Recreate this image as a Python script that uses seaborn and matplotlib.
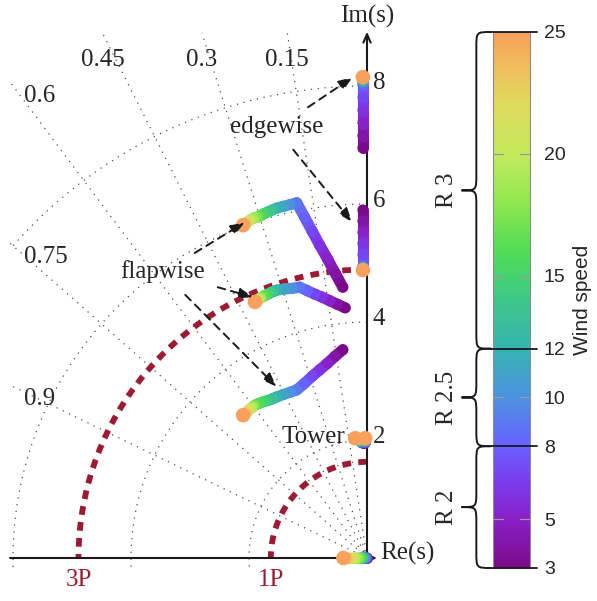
import numpy as np
import pandas as pd
import matplotlib
matplotlib.use("Agg")
import matplotlib.pyplot as plt
import seaborn as sns
from matplotlib.collections import LineCollection
from matplotlib.colors import LinearSegmentedColormap, Normalize
from matplotlib.path import Path
from matplotlib.patches import PathPatch
import matplotlib.cm as cm

# ---------------- data ----------------
wind = list(range(3, 26))

edge_hi_re = [-0.07] * 23
edge_hi_im = [6.95, 7.16, 7.38, 7.59, 7.81, 8.02, 8.05, 8.07, 8.09, 8.10, 8.11, 8.11,
              8.12, 8.12, 8.13, 8.13, 8.13, 8.14, 8.14, 8.14, 8.15, 8.15, 8.15]
edge_lo_re = [-0.07] * 23
edge_lo_im = [5.90, 5.71, 5.52, 5.33, 5.14, 4.95, 4.94, 4.93, 4.92, 4.91, 4.91, 4.90,
              4.90, 4.90, 4.89, 4.89, 4.89, 4.89, 4.88, 4.88, 4.88, 4.88, 4.88]
flap_hi_re = [-0.41, -0.54, -0.67, -0.80, -0.93, -1.06, -1.19, -1.30, -1.42, -1.53, -1.60, -1.67,
              -1.74, -1.81, -1.85, -1.90, -1.94, -1.98, -2.01, -2.03, -2.06, -2.08, -2.10]
flap_hi_im = [4.59, 4.83, 5.07, 5.30, 5.54, 5.78, 6.02, 5.99, 5.96, 5.93, 5.90, 5.87,
              5.84, 5.80, 5.78, 5.77, 5.75, 5.73, 5.71, 5.69, 5.67, 5.66, 5.64]
flap_mid_re = [-0.37, -0.50, -0.63, -0.76, -0.88, -1.01, -1.14, -1.27, -1.40, -1.53, -1.58, -1.63,
               -1.68, -1.73, -1.78, -1.80, -1.82, -1.84, -1.85, -1.86, -1.87, -1.89, -1.90]
flap_mid_im = [4.24, 4.30, 4.36, 4.42, 4.47, 4.53, 4.59, 4.57, 4.56, 4.54, 4.52, 4.50,
               4.47, 4.45, 4.42, 4.41, 4.40, 4.38, 4.37, 4.36, 4.35, 4.35, 4.34]
flap_lo_re = [-0.41, -0.54, -0.67, -0.80, -0.93, -1.06, -1.19, -1.30, -1.42, -1.53, -1.60, -1.68,
              -1.75, -1.83, -1.90, -1.93, -1.95, -1.98, -2.00, -2.03, -2.05, -2.08, -2.10]
flap_lo_im = [3.53, 3.42, 3.30, 3.19, 3.08, 2.96, 2.85, 2.81, 2.77, 2.73, 2.70, 2.67,
              2.65, 2.62, 2.59, 2.57, 2.55, 2.53, 2.51, 2.48, 2.46, 2.44, 2.42]
tower_fa_re = [-0.07, -0.07, -0.08, -0.08, -0.09, -0.09, -0.10, -0.10, -0.11, -0.11, -0.12, -0.13,
               -0.13, -0.14, -0.15, -0.15, -0.16, -0.17, -0.17, -0.18, -0.19, -0.19, -0.20]
tower_ss_re = [-0.05, -0.05, -0.05, -0.05, -0.05, -0.05, -0.04, -0.04, -0.04, -0.04, -0.04, -0.04,
               -0.04, -0.04, -0.03, -0.03, -0.03, -0.03, -0.03, -0.03, -0.03, -0.03, -0.03]
tower_im = [1.95, 1.95, 1.96, 1.96, 1.96, 1.97, 1.97, 1.98, 1.98, 1.99, 1.99, 2.00,
            2.00, 2.00, 2.01, 2.01, 2.01, 2.02, 2.02, 2.02, 2.03, 2.03, 2.03]
real_re = [0.00, 0.00, -0.01, -0.01, -0.01, -0.02, -0.03, -0.04, -0.05, -0.06, -0.07, -0.08,
           -0.09, -0.11, -0.13, -0.16, -0.19, -0.22, -0.26, -0.29, -0.33, -0.37, -0.40]
real_im = [0.0] * 23

damping_ratios = [0.15, 0.3, 0.45, 0.6, 0.75, 0.9]
damping_labels = ["0.15", "0.3", "0.45", "0.6", "0.75", "0.9"]
nat_freqs = [2, 4, 6, 8]
p_freqs = [1.63, 4.89]
p_labels = ["1P", "3P"]
im_ticks = [2, 4, 6, 8]

cbar_ticks = [3, 5, 8, 10, 12, 15, 20, 25]
region_bounds = [(3, 8, "R 2"), (8, 12, "R 2.5"), (12, 25, "R 3")]

cmap_vals = [3, 5, 6.5, 8, 10, 12, 14, 16, 18, 20, 22, 23.5, 25]
cmap_cols = ["#7a0a8a", "#8a20c8", "#7a3cee", "#6860ff", "#4d92e0", "#36b4b0", "#3dc88a",
             "#50dc55", "#90e850", "#c4ea5c", "#dedc5c", "#f0c05c", "#f8a05c"]

# ---------------- style ----------------
sns.set_theme(style="white")
plt.rcParams['font.family'] = ['Liberation Serif', 'DejaVu Serif']
SERIF = 18
RED = "#9e1a32"

vmin, vmax = 3, 25
cmap = LinearSegmentedColormap.from_list(
    "wind", [((v - vmin) / (vmax - vmin), c) for v, c in zip(cmap_vals, cmap_cols)])
norm = Normalize(vmin, vmax)

fig = plt.figure(figsize=(5.97, 6.01), dpi=100)
ax = fig.add_axes([10.05 / 597, (601 - 566.85) / 601, 371.7 / 597, 539.85 / 601])
ax.set_xlim(-6.05, 0.25)
ax.set_ylim(-0.15, 9.0)
ax.axis('off')

# grid: damping lines and natural frequency circles
for z, lab in zip(damping_ratios, damping_labels):
    s = np.sqrt(1 - z * z)
    t = min(6.05 / z, 8.9 / s)
    ax.plot([0, -z * t], [0, s * t], color='0.3', lw=0.9, ls=(0, (1, 4.5)), zorder=1)
    if 6.05 / z > 8.9 / s:
        ax.text(-z * t, 8.44, lab, ha='center', va='center', fontsize=SERIF)
    else:
        ax.text(-5.82, s * t - 0.05, lab, ha='left', va='top', fontsize=SERIF)

th = np.linspace(np.pi / 2, np.pi * 1.03, 300)
for w in nat_freqs:
    ax.plot(w * np.cos(th), w * np.sin(th), color='0.3', lw=0.9, ls=(0, (1, 4.5)), zorder=1)

# 1P / 3P circles
th2 = np.linspace(np.pi / 2, np.pi, 300)
for p, lab in zip(p_freqs, p_labels):
    ax.plot(p * np.cos(th2), p * np.sin(th2), color=RED, lw=4.2, ls=(0, (1.5, 1.25)), zorder=2)
    ax.text(-p, -0.37, lab, color=RED, ha='center', va='center', fontsize=SERIF)

# axes arrows
ax.annotate('', xy=(0.17, 0), xytext=(-6.05, 0),
            arrowprops=dict(arrowstyle='->,head_length=0.5,head_width=0.22', lw=1.5,
                            color='k', shrinkA=0, shrinkB=0), zorder=2)
ax.annotate('', xy=(0, 8.92), xytext=(0, 0),
            arrowprops=dict(arrowstyle='->,head_length=0.5,head_width=0.22', lw=1.5,
                            color='k', shrinkA=0, shrinkB=0), zorder=2)
ax.text(0, 9.18, "Im(s)", ha='center', va='center', fontsize=SERIF)
ax.text(0.23, 0.08, "Re(s)", ha='left', va='center', fontsize=SERIF)
for v in im_ticks:
    ax.text(0.1, v + 0.05, str(v), ha='left', va='center', fontsize=SERIF)

# modes
modes = [
    ("edge_hi", edge_hi_re, edge_hi_im),
    ("edge_lo", edge_lo_re, edge_lo_im),
    ("flap_hi", flap_hi_re, flap_hi_im),
    ("flap_mid", flap_mid_re, flap_mid_im),
    ("flap_lo", flap_lo_re, flap_lo_im),
    ("tower_fa", tower_fa_re, tower_im),
    ("tower_ss", tower_ss_re, tower_im),
    ("real", real_re, real_im),
]
frames = []
for name, re, im in modes:
    frames.append(pd.DataFrame({"mode": name, "re": re, "im": im, "wind": wind}))
    pts = np.column_stack([re, im])
    segs = np.stack([pts[:-1], pts[1:]], axis=1)
    wmid = (np.array(wind[:-1]) + np.array(wind[1:])) / 2
    lc = LineCollection(segs, colors=cmap(norm(wmid)), linewidths=8.0,
                        capstyle='round', joinstyle='round', zorder=3)
    ax.add_collection(lc)
df = pd.concat(frames, ignore_index=True).sort_values("wind", kind="stable")

sns.scatterplot(data=df, x="re", y="im", hue="wind", palette=cmap, hue_norm=norm,
                s=62, linewidth=0, legend=False, ax=ax, zorder=4)
sns.scatterplot(data=df[df["wind"] == 25], x="re", y="im", hue="wind", palette=cmap,
                hue_norm=norm, s=110, linewidth=0, legend=False, ax=ax, zorder=5)
ax.set_xlim(-6.05, 0.25)
ax.set_ylim(-0.15, 9.0)
ax.axis('off')

# annotations
ax.text(-1.53, 7.31, "edgewise", ha='center', va='center', fontsize=SERIF, zorder=6)
ax.text(-3.46, 4.85, "flapwise", ha='center', va='center', fontsize=SERIF, zorder=6)
ax.text(-0.37, 2.05, "Tower", ha='right', va='center', fontsize=SERIF, zorder=6)
arrows = [((-1.00, 7.64), (-0.24, 8.15)), ((-1.25, 6.92), (-0.25, 5.69)),
          ((-2.92, 5.17), (-2.07, 5.69)), ((-2.53, 4.59), (-1.93, 4.42)),
          ((-3.08, 4.46), (-1.53, 2.90))]
for a, b in arrows:
    ax.annotate('', xy=b, xytext=a,
                arrowprops=dict(arrowstyle='-|>,head_length=0.7,head_width=0.25', lw=1.4,
                                color='k', ls=(0, (4, 3)), shrinkA=0, shrinkB=0), zorder=6)

# colorbar
cax = fig.add_axes([493 / 597, (601 - 568) / 601, 37 / 597, 536 / 601])
sm = cm.ScalarMappable(norm=norm, cmap=cmap)
cb = fig.colorbar(sm, cax=cax, ticks=cbar_ticks)
cb.outline.set_edgecolor('0.55')
cb.outline.set_linewidth(0.8)
cax.tick_params(length=0, pad=10, labelsize=14)
for lab in cax.get_yticklabels():
    lab.set_fontfamily(['Liberation Sans', 'DejaVu Sans'])
cax.text(2.43, 0.5, "Wind speed", rotation=90, ha='center', va='center',
         transform=cax.transAxes, fontsize=15, fontfamily=['Liberation Sans', 'DejaVu Sans'])
for v in cbar_ticks:
    if any(v == r[0] or v == r[1] for r in region_bounds):
        cax.plot([-0.05, 1.19], [v, v], color='k', lw=1.3, clip_on=False, zorder=5)
    else:
        cax.plot([0, 0.28], [v, v], color='0.6', lw=0.9, zorder=5)
        cax.plot([0.72, 1], [v, v], color='0.6', lw=0.9, zorder=5)

# braces
ytr = cax.get_yaxis_transform()
xe, xm, xt, ry = -0.05, -0.45, -0.85, 0.65
for y0, y1, lab in region_bounds:
    ym = (y0 + y1) / 2
    verts = [(xe, y0), (xm, y0), (xm, y0), (xm, y0 + ry),
             (xm, ym - ry),
             (xm, ym), (xm, ym), (xt, ym),
             (xm, ym), (xm, ym), (xm, ym + ry),
             (xm, y1 - ry),
             (xm, y1), (xm, y1), (xe, y1)]
    codes = [Path.MOVETO, Path.CURVE4, Path.CURVE4, Path.CURVE4,
             Path.LINETO,
             Path.CURVE4, Path.CURVE4, Path.CURVE4,
             Path.CURVE4, Path.CURVE4, Path.CURVE4,
             Path.LINETO,
             Path.CURVE4, Path.CURVE4, Path.CURVE4]
    patch = PathPatch(Path(verts, codes), transform=ytr, fill=False, lw=1.4,
                      edgecolor='k', clip_on=False)
    cax.add_patch(patch)
    cax.text(-1.24, ym, lab, rotation=90, ha='center', va='center', transform=ytr,
             fontsize=SERIF)

fig.savefig("out.png", dpi=100)
